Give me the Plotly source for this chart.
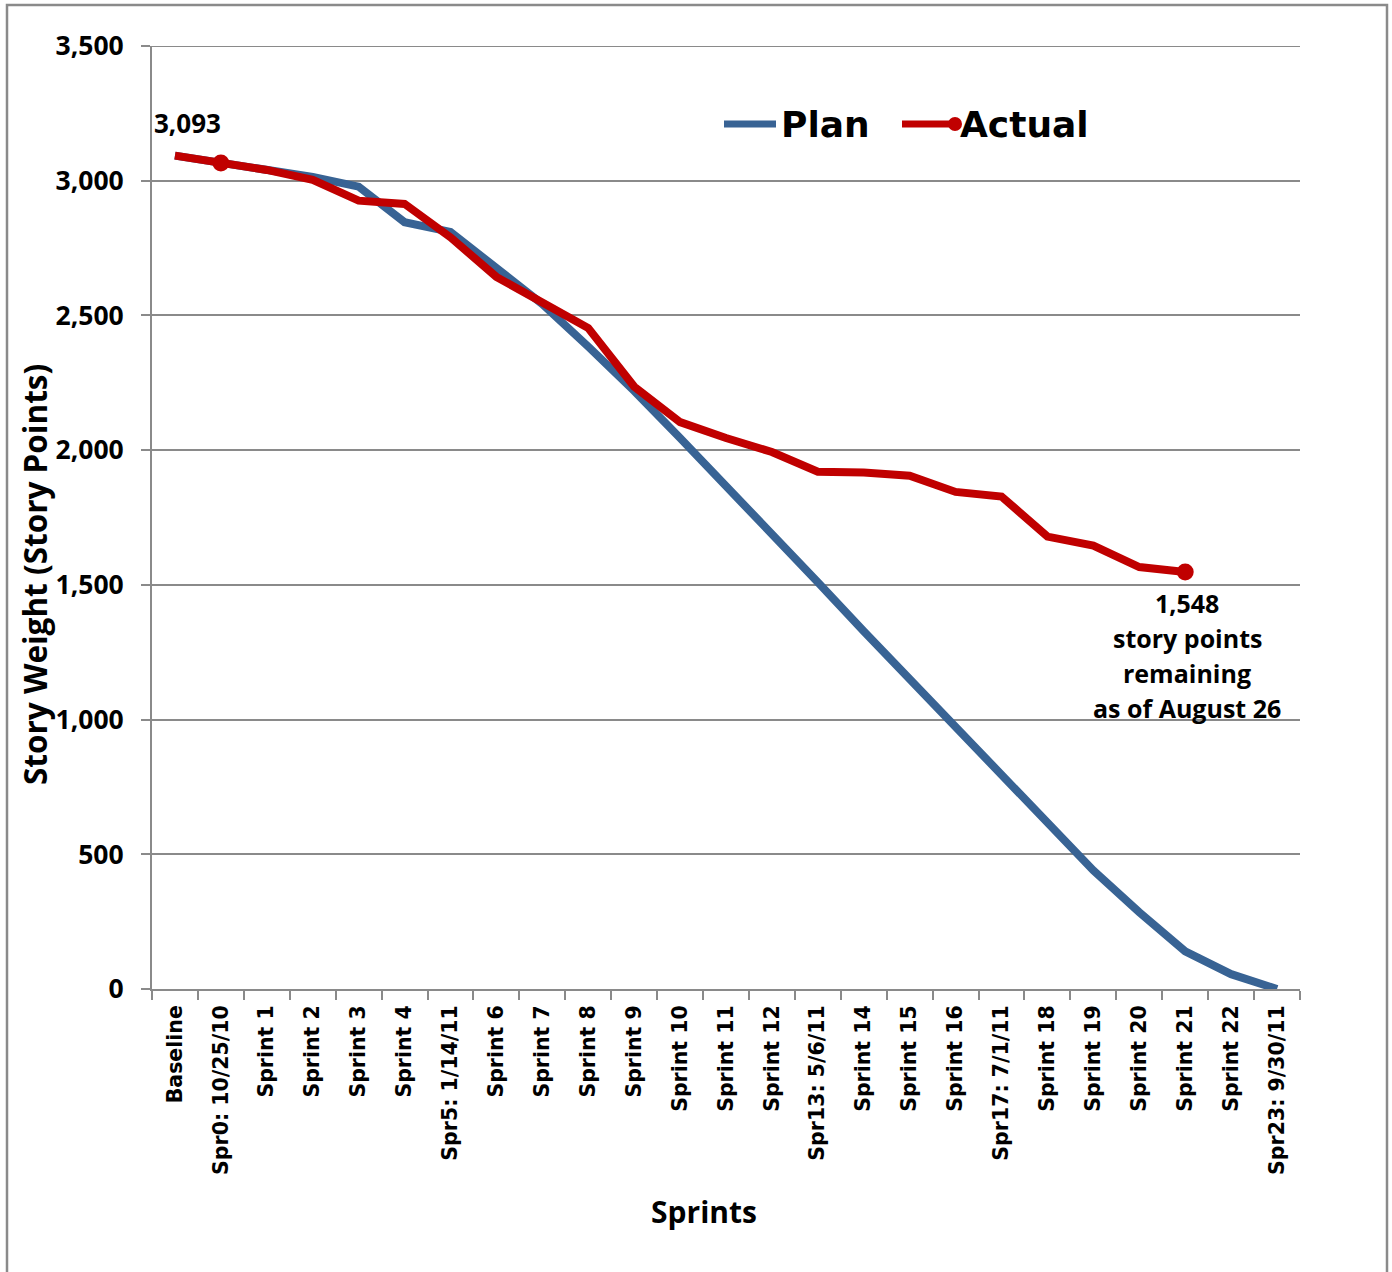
import plotly.graph_objects as go

categories = ["Baseline", "Spr0: 10/25/10", "Sprint 1", "Sprint 2", "Sprint 3", "Sprint 4",
              "Spr5: 1/14/11", "Sprint 6", "Sprint 7", "Sprint 8", "Sprint 9", "Sprint 10",
              "Sprint 11", "Sprint 12", "Spr13: 5/6/11", "Sprint 14", "Sprint 15", "Sprint 16",
              "Spr17: 7/1/11", "Sprint 18", "Sprint 19", "Sprint 20", "Sprint 21", "Sprint 22",
              "Spr23: 9/30/11"]
plan = [3093, 3066, 3040, 3014, 2978, 2846, 2810, 2672, 2542, 2384, 2220, 2045, 1870,
        1692, 1510, 1328, 1150, 970, 790, 615, 440, 285, 140, 55, 0]
actual = [3093, 3066, 3040, 3003, 2926, 2914, 2790, 2643, 2546, 2453, 2236, 2104, 2045,
          1993, 1920, 1917, 1905, 1845, 1828, 1679, 1646, 1566, 1548]
actual_marker_idx = [1, 22]
series_names = ["Plan", "Actual"]
note_lines = ["story points", "remaining", "as of August 26"]
x_title = "Sprints"
y_title = "Story Weight (Story Points)"
y_max = 3500
y_step = 500

BLUE = "#386394"
RED = "#C00000"
GRID = "#8A8A8A"
FAM = "Open Sans"
LBL = dict(family=FAM, size=25, color="black", weight="bold")

# plot-area geometry in pixels (for placing decorations in paper coords)
L, R, T, B = 152, 1300, 46, 989
PW, PH = R - L, B - T
def px(x):
    return (x - L) / PW
def py(y):
    return (B - y) / PH

act_sizes = [17 if i in actual_marker_idx else 0 for i in range(len(actual))]

fig = go.Figure()
# top gridline (at the upper end of the value range)
fig.add_shape(type="line", xref="paper", yref="y", x0=px(142), x1=1, y0=y_max, y1=y_max,
              line=dict(color=GRID, width=2), layer="below")
fig.add_trace(go.Scatter(x=categories, y=plan, name=series_names[0], mode="lines",
                         line=dict(color=BLUE, width=8), showlegend=False))
fig.add_trace(go.Scatter(x=categories[:len(actual)], y=actual, name=series_names[1],
                         mode="lines+markers", showlegend=False,
                         line=dict(color=RED, width=8),
                         marker=dict(color=RED, size=act_sizes, opacity=1,
                                     line=dict(width=0))))

# data labels
fig.add_annotation(x=categories[0], y=actual[0], text=f"<b>{actual[0]:,}</b>", showarrow=False,
                   xshift=13, yshift=33, font=dict(LBL, size=26))
last = len(actual) - 1
fig.add_annotation(x=categories[last], y=actual[last], text=f"<b>{actual[last]:,}</b>",
                   showarrow=False, xshift=2, yshift=-31, font=LBL)
for i, t in enumerate(note_lines):
    fig.add_annotation(x=categories[last], y=actual[last], text=f"<b>{t}</b>", showarrow=False,
                       xshift=2, yshift=-31 - 35 * (i + 1), font=LBL)

# axis titles (placed as in the original, which is not centred on the plot area)
TF = dict(family=FAM, size=31.5, color="black", weight="bold")
fig.add_annotation(xref="paper", yref="paper", x=px(34), y=py(575), textangle=-90,
                   xanchor="center", yanchor="middle", showarrow=False,
                   text=f"<b>{y_title}</b>", font=TF)
fig.add_annotation(xref="paper", yref="paper", x=px(704), y=py(1211),
                   xanchor="center", yanchor="middle", showarrow=False,
                   text=f"<b>{x_title}</b>", font=dict(TF, size=30))

# legend (drawn as decorations to match the original layout)
LEG_Y = py(124)
LEGF = dict(family="DejaVu Sans", size=36, color="black")
fig.add_shape(type="line", xref="paper", yref="paper", x0=px(724), x1=px(776),
              y0=LEG_Y, y1=LEG_Y, line=dict(color=BLUE, width=7))
fig.add_shape(type="line", xref="paper", yref="paper", x0=px(902), x1=px(955),
              y0=LEG_Y, y1=LEG_Y, line=dict(color=RED, width=7))
fig.add_shape(type="circle", xref="paper", yref="paper",
              x0=px(948), x1=px(962), y0=py(117), y1=py(131),
              fillcolor=RED, line=dict(width=0))
fig.add_annotation(xref="paper", yref="paper", x=px(779), y=LEG_Y, xanchor="left",
                   yanchor="middle", text=f"<b>{series_names[0]}</b>", showarrow=False,
                   font=LEGF)
fig.add_annotation(xref="paper", yref="paper", x=px(958), y=LEG_Y, xanchor="left",
                   yanchor="middle", text=f"<b>{series_names[1]}</b>", showarrow=False,
                   font=LEGF)

# chart-area border
fig.add_shape(type="rect", xref="paper", yref="paper",
              x0=px(7), x1=px(1387), y0=py(1290), y1=py(5),
              line=dict(color=GRID, width=2.5), fillcolor="rgba(0,0,0,0)", layer="below")

fig.update_layout(
    width=1392, height=1272,
    margin=dict(l=L, r=1392 - R, t=T, b=1272 - B),
    paper_bgcolor="white", plot_bgcolor="white",
    showlegend=False,
    xaxis=dict(type="category", range=[-0.5, len(categories) - 0.5],
               showline=True, linecolor=GRID, linewidth=2,
               ticks="outside", tickson="boundaries", ticklen=9, tickcolor=GRID, tickwidth=2,
               tickangle=-90, showgrid=False, zeroline=False, ticklabelstandoff=6,
               tickfont=dict(family="DejaVu Sans", size=20.5, color="black", weight="bold")),
    yaxis=dict(range=[0, y_max], dtick=y_step, tickformat=",", showline=True, linecolor=GRID,
               linewidth=2, ticks="outside", ticklen=9, tickcolor=GRID, tickwidth=2,
               showgrid=True, gridcolor=GRID, gridwidth=2, zeroline=False,
               ticklabelstandoff=12,
               tickfont=dict(family=FAM, size=26.5, color="black", weight="bold")),
)

fig.write_html("out.html")
